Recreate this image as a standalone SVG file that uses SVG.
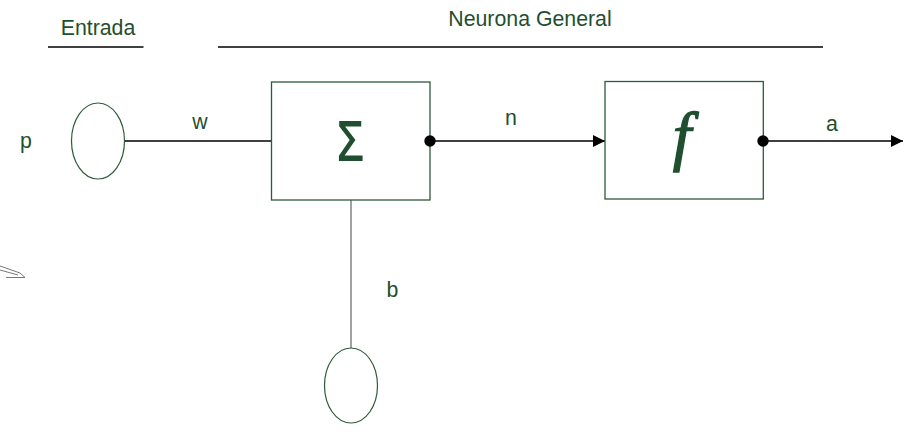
<svg xmlns="http://www.w3.org/2000/svg" width="911" height="440" viewBox="0 0 911 440">
<defs>
<style>
.lbl{font-family:"Liberation Sans",Arial,sans-serif;font-size:21.3px;fill:#1f4f2e}
.box{fill:#fff;stroke:#2c5a3a;stroke-width:1.3}
.ell{fill:#fff;stroke:#2c5a3a;stroke-width:1.2}
.wire{stroke:#000;stroke-width:1.3;fill:none}
.rule{stroke:#000;stroke-width:1.3}
</style>
<marker id="arr" markerWidth="12" markerHeight="12" refX="12" refY="6" orient="auto" markerUnits="userSpaceOnUse">
<path d="M0,0 L12,6 L0,12 Z" fill="#000"/>
</marker>
</defs>
<rect width="911" height="440" fill="#fff"/>

<g id="titles">
<text class="lbl" x="98" y="35" text-anchor="middle">Entrada</text>
<line class="rule" x1="48" y1="47" x2="143.5" y2="47"/>
<text class="lbl" x="530" y="26" text-anchor="middle">Neurona General</text>
<line class="rule" x1="218" y1="47" x2="823" y2="47"/>
</g>

<g id="connectors">
<line class="wire" x1="124" y1="141" x2="272" y2="141"/>
<line class="wire" x1="430" y1="141" x2="605" y2="141" marker-end="url(#arr)"/>
<line class="wire" x1="763" y1="141" x2="903" y2="141" marker-end="url(#arr)"/>
<line x1="351" y1="200" x2="351" y2="348" stroke="#6f6f6f" stroke-width="1.3"/>
</g>

<g id="node-p">
<ellipse class="ell" cx="98" cy="141" rx="26.5" ry="38"/>
<text class="lbl" x="26" y="148" text-anchor="middle">p</text>
</g>
<text class="lbl" id="label-w" x="200" y="129" text-anchor="middle">w</text>

<g id="node-sum">
<rect class="box" x="271.5" y="82" width="158.5" height="118"/>
<text transform="translate(350.5,160.5) scale(0.82,1)" text-anchor="middle" font-family="'Open Sans','Noto Sans',sans-serif" font-weight="600" font-size="56" fill="#1f4f2e">Σ</text>
<circle cx="430" cy="141" r="5.7" fill="#000"/>
</g>
<text class="lbl" id="label-n" x="511" y="125" text-anchor="middle">n</text>

<g id="node-f">
<rect class="box" x="605" y="81.5" width="158.3" height="117.5"/>
<text x="682" y="158" text-anchor="middle" font-family="'Liberation Serif','Times New Roman',serif" font-style="italic" font-size="66" fill="#1f4f2e" stroke="#1f4f2e" stroke-width="1.3">f</text>
<circle cx="763" cy="141" r="5.7" fill="#000"/>
</g>
<text class="lbl" id="label-a" x="832" y="131" text-anchor="middle">a</text>

<g id="node-b">
<ellipse class="ell" cx="351" cy="385.5" rx="26.5" ry="37.5"/>
<text class="lbl" id="label-b" x="392.5" y="297" text-anchor="middle">b</text>
</g>

<g id="artifact">
<path d="M0,266 L20,273 L25,277.5 L6,277.5 M0,270 L18,275" fill="none" stroke="#777" stroke-width="1"/>
</g>
</svg>
